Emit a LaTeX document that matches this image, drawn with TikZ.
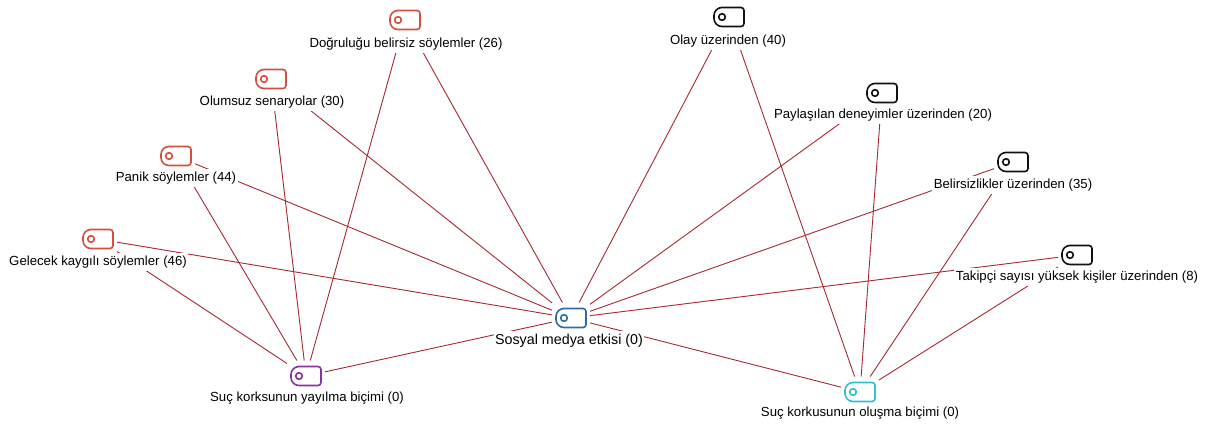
\documentclass[tikz,border=0pt]{standalone}
\usepackage{fontspec}
\setmainfont{Liberation Sans}
\usetikzlibrary{backgrounds}
\definecolor{edgec}{RGB}{168,40,48}
\definecolor{redic}{RGB}{214,78,62}
\definecolor{blackic}{RGB}{17,17,17}
\definecolor{blueic}{RGB}{46,108,164}
\definecolor{purpleic}{RGB}{140,48,156}
\definecolor{cyanic}{RGB}{48,192,204}
\newcommand\tagicon[4]{%
  \node[iconbox] (#1) at (#2,#3) {};
  \draw[iconline,#4,shift={(#2,#3)}] (0,-9.5) [rounded corners=3pt] -- (15,-9.5) -- (15,9.5) -- (0,9.5) [rounded corners=8pt] -- (-15,9.5) -- (-15,-9.5) -- cycle;
  \draw[iconline,#4,shift={(#2,#3)}] (-7,0) circle[radius=3.3pt];
}
\tikzset{
  iconbox/.style={rectangle, fill=white, minimum width=34pt, minimum height=27pt, inner sep=0pt, outer sep=2pt},
  iconline/.style={line width=1.6pt},
  lbl/.style={fill=white, inner xsep=1.5pt, inner ysep=3pt, font=\fontsize{13.2}{15}\selectfont},
  biglbl/.style={fill=white, inner xsep=1.5pt, inner ysep=3pt, font=\fontsize{14.3}{16}\selectfont},
  edge/.style={draw=edgec, line width=0.9pt}
}
\begin{document}
\begin{tikzpicture}[x=1pt,y=-1pt]
\useasboundingbox (0,0) rectangle (1210,423);
% left group
\tagicon{D}{405}{20}{redic}
\node[lbl] (Dl) at (406,44) {Doğruluğu belirsiz söylemler (26)};
\tagicon{O}{271}{79}{redic}
\node[lbl] (Olb) at (272,102) {Olumsuz senaryolar (30)};
\tagicon{P}{176}{156}{redic}
\node[lbl] (Pl) at (176,178) {Panik söylemler (44)};
\tagicon{G}{98}{239}{redic}
\node[lbl] (Gl) at (98,262) {Gelecek kaygılı söylemler (46)};
% right group
\tagicon{OY}{729}{17}{blackic}
\node[lbl] (OYl) at (728,41) {Olay üzerinden (40)};
\tagicon{PD}{882}{93}{blackic}
\node[lbl] (PDl) at (883,115) {Paylaşılan deneyimler üzerinden (20)};
\tagicon{B}{1013}{162}{blackic}
\node[lbl] (Bl) at (1013,185) {Belirsizlikler üzerinden (35)};
\tagicon{T}{1077}{255}{blackic}
\node[lbl] (Tl) at (1077,277) {Takipçi sayısı yüksek kişiler üzerinden (8)};
% central and bottom
\tagicon{SM}{571}{318}{blueic}
\node[biglbl] (SMl) at (569,341) {Sosyal medya etkisi (0)};
\tagicon{Y}{306}{376}{purpleic}
\node[lbl] (Yl) at (307,398) {Suç korksunun yayılma biçimi (0)};
\tagicon{C}{860}{392}{cyanic}
\node[lbl] (Cl) at (860,413) {Suç korkusunun oluşma biçimi (0)};
\begin{scope}[on background layer]
\draw[edge] (D) -- (Y);
\draw[edge] (D) -- (SM);
\draw[edge] (O) -- (Y);
\draw[edge] (O) -- (SM);
\draw[edge] (P) -- (Y);
\draw[edge] (P) -- (SM);
\draw[edge] (G) -- (Y);
\draw[edge] (G) -- (SM);
\draw[edge] (OY) -- (SM);
\draw[edge] (OY) -- (C);
\draw[edge] (PD) -- (SM);
\draw[edge] (PD) -- (C);
\draw[edge] (B) -- (SM);
\draw[edge] (B) -- (C);
\draw[edge] (T) -- (SM);
\draw[edge] (T) -- (C);
\draw[edge] (SM) -- (Y);
\draw[edge] (SM) -- (C);
\end{scope}
\end{tikzpicture}
\end{document}
